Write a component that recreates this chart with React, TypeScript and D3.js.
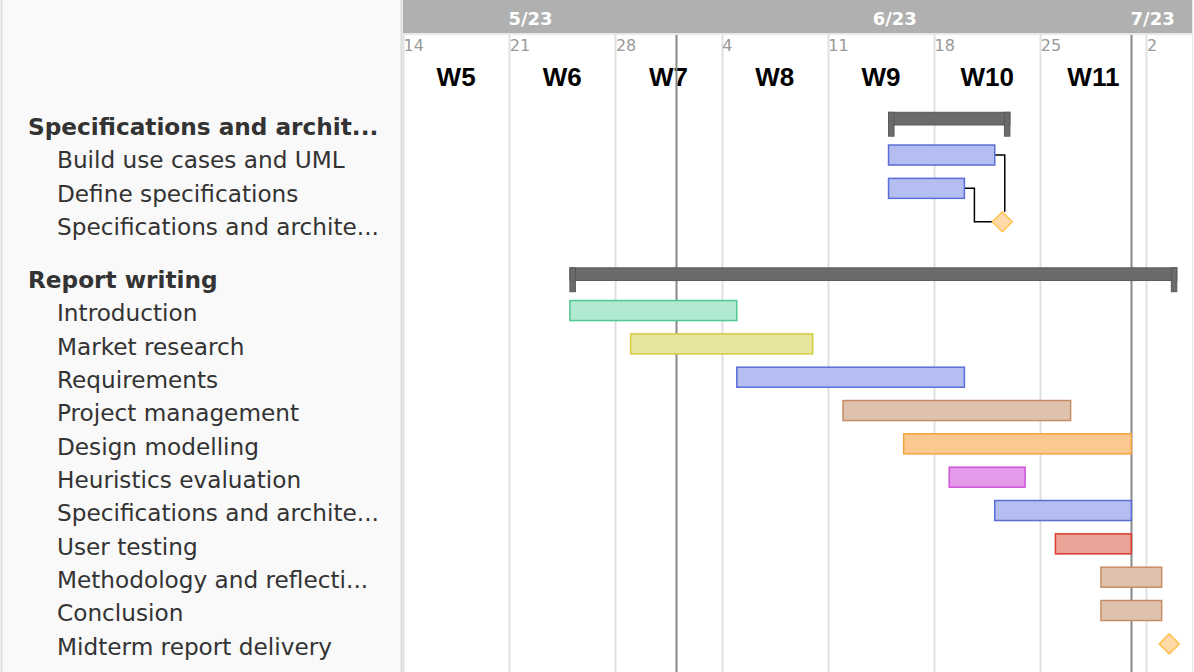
import React from "react";
import * as d3 from "d3";

// ---------- data ----------
const groupLabels = ["Specifications and archit...", "Report writing"];
const groupStarts = ["2023-06-15", "2023-05-25"];
const groupEnds = ["2023-06-23", "2023-07-04"];

// tasks: group index, label, start, end (milestone when start === end)
const taskGroups = [0, 0, 0, 1, 1, 1, 1, 1, 1, 1, 1, 1, 1, 1];
const taskLabels = [
  "Build use cases and UML",
  "Define specifications",
  "Specifications and archite...",
  "Introduction",
  "Market research",
  "Requirements",
  "Project management",
  "Design modelling",
  "Heuristics evaluation",
  "Specifications and archite...",
  "User testing",
  "Methodology and reflecti...",
  "Conclusion",
  "Midterm report delivery",
];
const taskStarts = [
  "2023-06-15", "2023-06-15", "2023-06-22T12:00",
  "2023-05-25", "2023-05-29", "2023-06-05", "2023-06-12", "2023-06-16",
  "2023-06-19", "2023-06-22", "2023-06-26", "2023-06-29", "2023-06-29",
  "2023-07-03T12:00",
];
const taskEnds = [
  "2023-06-22", "2023-06-20", "2023-06-22T12:00",
  "2023-06-05", "2023-06-10", "2023-06-20", "2023-06-27", "2023-07-01",
  "2023-06-24", "2023-07-01", "2023-07-01", "2023-07-03", "2023-07-03",
  "2023-07-03T12:00",
];
const taskColors = [
  "blue", "blue", "milestone",
  "green", "yellow", "blue", "tan", "orange", "magenta", "blue", "red", "tan", "tan",
  "milestone",
];
// dependencies: [from task index, to task index]
const dependencies: [number, number][] = [
  [0, 2],
  [1, 2],
];

const weekLabels = ["W5", "W6", "W7", "W8", "W9", "W10", "W11"];
const monthLabels = ["5/23", "6/23", "7/23"];
const axisStart = "2023-05-14";
const axisEnd = "2023-07-05";

// ---------- styles ----------
const palette: Record<string, { fill: string; stroke: string }> = {
  blue: { fill: "#b5bef0", stroke: "#5b6dd6" },
  green: { fill: "#b2e9d1", stroke: "#4fc993" },
  yellow: { fill: "#e7e59e", stroke: "#d2cc40" },
  tan: { fill: "#dfc2ae", stroke: "#c78b65" },
  orange: { fill: "#fbc98f", stroke: "#f5a13d" },
  magenta: { fill: "#e39be9", stroke: "#d152d9" },
  red: { fill: "#eba297", stroke: "#d83a2d" },
  milestone: { fill: "#ffdaa8", stroke: "#ffc24f" },
};

const W = 1194;
const H = 672;
const LEFT = 403;
const RIGHT = 1192;
const ROW0 = 121.7;
const ROW_STEP = 33.33;
const GROUP_GAP = 22.2;
const LABEL0 = 128.5;
const LABEL_GAP = 19.7;
const BAR_H = 20;

const parse = (s: string) => new Date(s.length > 10 ? s + ":00Z" : s + "T00:00:00Z");

export default function App() {
  const x = d3
    .scaleUtc()
    .domain([parse(axisStart), parse(axisEnd)])
    .range([LEFT, RIGHT]);

  // row layout
  type Row = { kind: "group" | "task"; idx: number; y: number; ly: number };
  const rows: Row[] = [];
  let r = 0;
  groupLabels.forEach((_, g) => {
    const mk = (kind: "group" | "task", idx: number) => {
      rows.push({
        kind,
        idx,
        y: ROW0 + r * ROW_STEP + g * GROUP_GAP,
        ly: LABEL0 + r * ROW_STEP + g * LABEL_GAP,
      });
      r++;
    };
    mk("group", g);
    taskGroups.forEach((tg, ti) => {
      if (tg === g) mk("task", ti);
    });
  });
  const taskY: number[] = [];
  rows.forEach((row) => {
    if (row.kind === "task") taskY[row.idx] = row.y;
  });

  const weeks = d3.utcWeek.range(parse(axisStart), parse(axisEnd));
  const months = d3.utcMonth.range(d3.utcMonth.floor(parse(axisStart)), parse(axisEnd));
  const monthBoundaries = d3.utcMonth.range(d3.utcMonth.ceil(parse(axisStart)), parse(axisEnd));

  const labelFont = "'DejaVu Sans', Verdana, sans-serif";

  return (
    <div style={{ position: "absolute", left: 0, top: 0 }}>
      <svg width={W} height={H} style={{ display: "block" }}>
        <rect x={0} y={0} width={W} height={H} fill="#ffffff" />
        {/* left panel */}
        <rect x={0} y={0} width={LEFT - 1} height={H} fill="#f9f9f9" />
        <line x1={1.5} x2={1.5} y1={0} y2={H} stroke="#e0e0e0" strokeWidth={2} />
        <line x1={LEFT - 1.5} x2={LEFT - 1.5} y1={0} y2={H} stroke="#dcdcdc" strokeWidth={2} />
        <line x1={RIGHT + 0.5} x2={RIGHT + 0.5} y1={0} y2={H} stroke="#e6e6e6" strokeWidth={1} />

        {/* header band */}
        <rect x={LEFT} y={0} width={RIGHT - LEFT} height={33} fill="#b0b0b0" />
        <line x1={LEFT} x2={RIGHT} y1={34} y2={34} stroke="#e8e8e8" strokeWidth={2} />

        {/* week grid lines */}
        {weeks.map((d, i) => (
          <line
            key={"wg" + i}
            x1={Math.round(x(d)) + 0.5}
            x2={Math.round(x(d)) + 0.5}
            y1={35}
            y2={H}
            stroke="#e0e0e0"
            strokeWidth={2}
          />
        ))}

        {/* month labels */}
        {months.map((d, i) => {
          const a = Math.max(LEFT, x(d));
          const b = Math.min(RIGHT, x(d3.utcMonth.offset(d, 1)));
          return (
            <text
              key={"ml" + i}
              x={(a + b) / 2 - 9}
              y={25}
              textAnchor="middle"
              fill="#ffffff"
              fontFamily={labelFont}
              fontWeight="bold"
              fontSize={18}
            >
              {monthLabels[i]}
            </text>
          );
        })}

        {/* day labels */}
        {weeks.map((d, i) => (
          <text
            key={"dl" + i}
            x={x(d) + 0.5}
            y={50.5}
            fill="#999999"
            fontFamily={labelFont}
            fontSize={16}
          >
            {d.getUTCDate()}
          </text>
        ))}

        {/* week labels */}
        {weeks.map((d, i) =>
          i < weekLabels.length ? (
            <text
              key={"wl" + i}
              x={(x(d) + x(d3.utcWeek.offset(d, 1))) / 2}
              y={86}
              textAnchor="middle"
              fill="#000000"
              fontFamily="'Liberation Sans', Arial, sans-serif"
              fontWeight="bold"
              fontSize={26}
            >
              {weekLabels[i]}
            </text>
          ) : null
        )}

        {/* month grid lines (drawn over the week labels) */}
        {monthBoundaries.map((d, i) => (
          <line
            key={"mg" + i}
            x1={Math.round(x(d)) + 0.5}
            x2={Math.round(x(d)) + 0.5}
            y1={35}
            y2={H}
            stroke="#888888"
            strokeWidth={2}
          />
        ))}

        {/* row labels */}
        {rows.map((row, i) => (
          <text
            key={"rl" + i}
            x={row.kind === "group" ? 28 : 57}
            y={row.ly}
            dominantBaseline="middle"
            fill="#333333"
            fontFamily={labelFont}
            fontWeight={row.kind === "group" ? "bold" : "normal"}
            fontSize={23.2}
          >
            {row.kind === "group" ? groupLabels[row.idx] : taskLabels[row.idx]}
          </text>
        ))}

        {/* summary bars */}
        {rows
          .filter((row) => row.kind === "group")
          .map((row) => {
            const x0 = x(parse(groupStarts[row.idx]));
            const x1 = x(parse(groupEnds[row.idx]));
            const top = row.y - 9.4;
            const barH = 12.7;
            const legBottom = row.y + 14.5;
            const legW = 5.5;
            return (
              <g key={"sb" + row.idx} fill="#6b6b6b" stroke="#5a5a5a" strokeWidth={1}>
                <rect x={x0} y={top} width={x1 - x0} height={barH} />
                <rect x={x0} y={top} width={legW} height={legBottom - top} />
                <rect x={x1 - legW} y={top} width={legW} height={legBottom - top} />
              </g>
            );
          })}

        {/* dependencies */}
        {dependencies.map(([from, to], i) => {
          const fx = x(parse(taskEnds[from]));
          const fy = taskY[from];
          const tx = x(parse(taskStarts[to]));
          const ty = taskY[to];
          const half = 10;
          const bendX = fx + 10;
          let dpath: string;
          if (bendX >= tx - half + 2) {
            dpath = `M${fx},${fy}H${bendX}V${ty - half}`;
          } else {
            dpath = `M${fx},${fy}H${bendX}V${ty}H${tx - half}`;
          }
          return (
            <path key={"dep" + i} d={dpath} fill="none" stroke="#000000" strokeWidth={1.5} />
          );
        })}

        {/* task bars & milestones */}
        {taskLabels.map((_, i) => {
          const c = palette[taskColors[i]];
          const s = parse(taskStarts[i]);
          const e = parse(taskEnds[i]);
          const y = taskY[i];
          if (+s === +e) {
            const cx = x(s);
            const h = 10;
            return (
              <path
                key={"t" + i}
                d={`M${cx},${y - h}L${cx + h},${y}L${cx},${y + h}L${cx - h},${y}Z`}
                fill={c.fill}
                stroke={c.stroke}
                strokeWidth={1.5}
                strokeLinejoin="round"
              />
            );
          }
          return (
            <rect
              key={"t" + i}
              x={x(s)}
              y={y - BAR_H / 2}
              width={x(e) - x(s)}
              height={BAR_H}
              fill={c.fill}
              stroke={c.stroke}
              strokeWidth={1.5}
            />
          );
        })}
      </svg>
    </div>
  );
}
